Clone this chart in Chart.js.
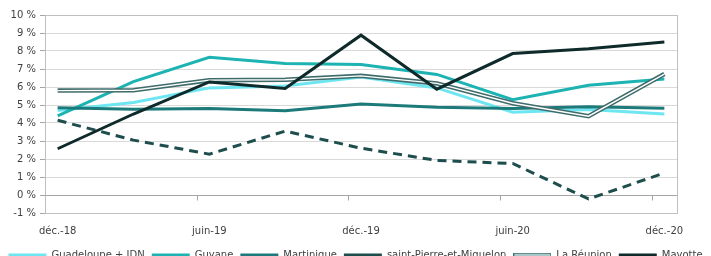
<!DOCTYPE html>
<html>
<head>
<meta charset="utf-8">
<script src="https://cdn.jsdelivr.net/npm/chart.js@4/dist/chart.umd.min.js"></script>
<style>
  html, body { margin: 0; padding: 0; background: #fff; overflow: hidden; }
  #wrap { position: relative; width: 711px; height: 256px; overflow: hidden; }
  #box { position: absolute; left: 0; top: 0; width: 711px; height: 270px; }
</style>
</head>
<body>
<div id="wrap"><div id="box"><canvas id="myChart"></canvas></div></div>
<script>
// --- Data ---
const months = [
  "déc.-18", "janv.-19", "févr.-19", "mars-19", "avr.-19", "mai-19", "juin-19",
  "juil.-19", "août-19", "sept.-19", "oct.-19", "nov.-19", "déc.-19",
  "janv.-20", "févr.-20", "mars-20", "avr.-20", "mai-20", "juin-20",
  "juil.-20", "août-20", "sept.-20", "oct.-20", "nov.-20", "déc.-20",
];
const quarters = ["déc.-18", "mars-19", "juin-19", "sept.-19", "déc.-19", "mars-20", "juin-20", "sept.-20", "déc.-20"];
const tickLabels = ["déc.-18", "juin-19", "déc.-19", "juin-20", "déc.-20"];

const guadeloupe = [4.7, 5.14, 5.95, 6.05, 6.55, 5.95, 4.6, 4.75, 4.5];
const guyane = [4.4, 6.3, 7.65, 7.3, 7.25, 6.7, 5.3, 6.1, 6.45];
const martinique = [4.85, 4.77, 4.8, 4.68, 5.05, 4.87, 4.8, 4.9, 4.82];
const spm = [4.15, 3.05, 2.27, 3.55, 2.6, 1.92, 1.75, -0.22, 1.22];
const reunion = [5.8, 5.82, 6.38, 6.4, 6.62, 6.2, 5.1, 4.38, 6.72];
const mayotte = [2.57, 4.5, 6.28, 5.92, 8.88, 5.88, 7.86, 8.13, 8.5];

// put quarterly values on the monthly axis
function spread(vals) {
  const out = months.map(() => null);
  quarters.forEach((q, i) => (out[months.indexOf(q)] = vals[i]));
  return out;
}

// double-line swatch for La Réunion in the legend
const reunionSwatch = document.createElement("canvas");
reunionSwatch.width = 38;
reunionSwatch.height = 5;
(function () {
  const c = reunionSwatch.getContext("2d");
  c.fillStyle = "#3f6b6b";
  c.fillRect(0, 0, 38, 5);
  c.fillStyle = "#d0e8e8";
  c.fillRect(1, 1.5, 36, 2);
})();

function line(label, data, color, width, order, extra) {
  return Object.assign({
    label: label,
    data: spread(data),
    borderColor: color,
    backgroundColor: color,
    borderWidth: width,
    pointRadius: 0,
    pointHoverRadius: 0,
    pointStyle: "line",
    tension: 0,
    spanGaps: true,
    order: order,
  }, extra || {});
}

const datasets = [
  line("Guadeloupe + IDN", guadeloupe, "#6ee6f2", 3, 10),
  line("Guyane", guyane, "#1db3b3", 3, 9),
  line("Martinique", martinique, "#1d7a7a", 3, 8),
  line("saint-Pierre-et-Miquelon", spm, "#1e4d4d", 3, 7, { borderDash: [9, 6] }),
  line("La Réunion", reunion, "#3f6b6b", 4.5, 6, { pointStyle: reunionSwatch }),
  line("Mayotte", mayotte, "#0f2a2a", 3, 4),
  line("reunion-inner", reunion, "#ffffff", 1.4, 5),
];

// --- Frame, darker 0 % line and category tick marks ---
const framePlugin = {
  id: "frame",
  beforeDatasetsDraw(chart) {
    const { ctx, chartArea: a, scales } = chart;
    const x = scales.x, y = scales.y;
    ctx.save();
    ctx.strokeStyle = "#bfbfbf";
    ctx.lineWidth = 1;
    ctx.strokeRect(Math.round(a.left) + 0.5, Math.round(a.top) + 0.5,
      Math.round(a.right - a.left), Math.round(a.bottom - a.top));
    const y0 = Math.round(y.getPixelForValue(0)) + 0.5;
    ctx.strokeStyle = "#a6a6a6";
    ctx.beginPath();
    ctx.moveTo(a.left, y0);
    ctx.lineTo(a.right, y0);
    const step = x.getPixelForValue(1) - x.getPixelForValue(0);
    months.forEach((m, i) => {
      if (i > 0 && tickLabels.includes(m)) {
        const px = Math.round(x.getPixelForValue(i) - step / 2) + 0.5;
        ctx.moveTo(px, y0);
        ctx.lineTo(px, y0 + 5);
      }
    });
    ctx.stroke();
    ctx.restore();
  },
};

Chart.defaults.font.family = "'DejaVu Sans', Verdana, sans-serif";
Chart.defaults.font.size = 10;
Chart.defaults.color = "#404040";

const ctx = document.getElementById("myChart").getContext("2d");
new Chart(ctx, {
  type: "line",
  data: { labels: months, datasets: datasets },
  options: {
    responsive: true,
    maintainAspectRatio: false,
    animation: false,
    layout: { padding: { top: 15, right: 0, left: 0, bottom: 0 } },
    scales: {
      x: {
        offset: true,
        grid: { display: false },
        border: { display: false },
        ticks: {
          autoSkip: false,
          maxRotation: 0,
          padding: 4,
          color: "#404040",
          callback: (v, i) => (tickLabels.includes(months[i]) ? months[i] : ""),
        },
        afterFit: (s) => { s.height = 30; },
      },
      y: {
        min: -1,
        max: 10,
        ticks: {
          stepSize: 1,
          padding: 4,
          color: "#404040",
          callback: (v) => v + " %",
        },
        grid: { color: "#d9d9d9", tickColor: "#a6a6a6", tickLength: 5 },
        border: { color: "#a6a6a6" },
        afterFit: (s) => { s.width = 45; },
      },
      yRight: {
        position: "right",
        display: true,
        grid: { display: false },
        border: { display: false },
        ticks: { display: false },
        afterFit: (s) => { s.width = 34; },
      },
    },
    plugins: {
      tooltip: { enabled: false },
      legend: {
        position: "bottom",
        labels: {
          usePointStyle: true,
          pointStyleWidth: 38,
          padding: 7,
          color: "#404040",
          filter: (item) => item.text !== "reunion-inner",
          sort: (a, b) => a.datasetIndex - b.datasetIndex,
        },
      },
    },
  },
  plugins: [framePlugin],
});
</script>
</body>
</html>
